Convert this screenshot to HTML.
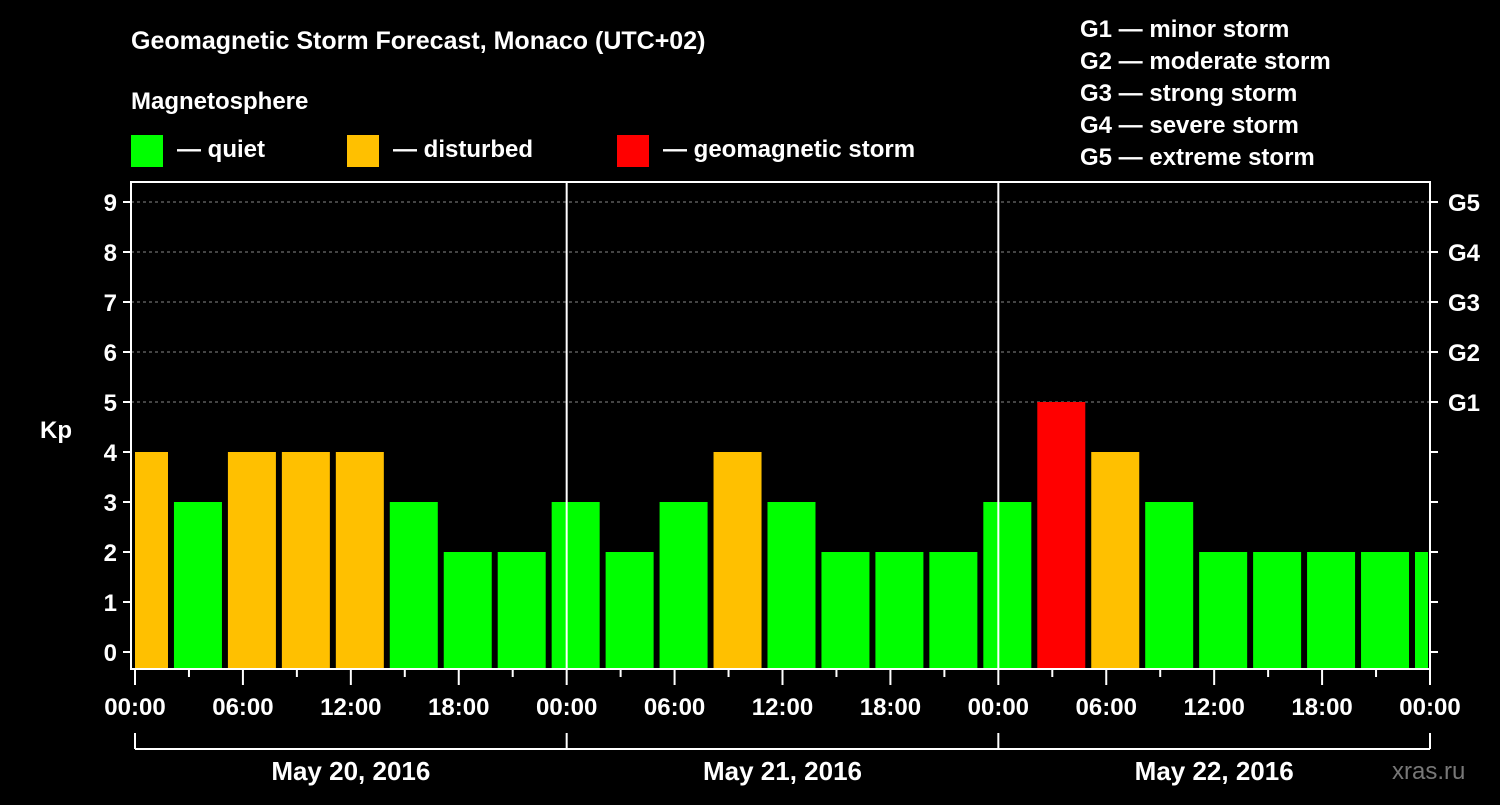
<!DOCTYPE html>
<html><head><meta charset="utf-8"><style>
body{margin:0;background:#000;}
svg text{font-family:"Liberation Sans",sans-serif;font-weight:bold;fill:#fff;}
</style></head><body>
<svg id="chart" width="1500" height="800">
<rect x="0" y="0" width="1500" height="800" fill="#000"/>
<text x="131" y="49" font-size="25">Geomagnetic Storm Forecast, Monaco (UTC+02)</text>
<text x="131" y="109" font-size="24">Magnetosphere</text>
<g><rect x="131" y="135" width="32" height="32" fill="#00ff00"/><text x="177" y="157" font-size="24">— quiet</text></g>
<g><rect x="347" y="135" width="32" height="32" fill="#ffc000"/><text x="393" y="157" font-size="24">— disturbed</text></g>
<g><rect x="617" y="135" width="32" height="32" fill="#ff0000"/><text x="663" y="157" font-size="24">— geomagnetic storm</text></g>
<g font-size="24">
<text x="1080" y="37">G1 — minor storm</text>
<text x="1080" y="69">G2 — moderate storm</text>
<text x="1080" y="101">G3 — strong storm</text>
<text x="1080" y="133">G4 — severe storm</text>
<text x="1080" y="165">G5 — extreme storm</text>
</g>
<text x="40" y="438" font-size="24">Kp</text>
<text x="1392" y="779" font-size="24" fill="#777" style="fill:#777;font-weight:normal">xras.ru</text>
<g id="plot"></g>
</svg>
<script>
const kpValues=[4,3,4,4,4,3,2,2,3,2,3,4,3,2,2,2,3,5,4,3,2,2,2,2,2];
const barHours=[0.5,3.5,6.5,9.5,12.5,15.5,18.5,21.5,24.5,27.5,30.5,33.5,36.5,39.5,42.5,45.5,48.5,51.5,54.5,57.5,60.5,63.5,66.5,69.5,72.5];
const yTicks=[0,1,2,3,4,5,6,7,8,9];
const gLabels=["G1","G2","G3","G4","G5"];
const gLevels=[5,6,7,8,9];
const xTickLabels=["00:00","06:00","12:00","18:00","00:00","06:00","12:00","18:00","00:00","06:00","12:00","18:00","00:00"];
const dateLabels=["May 20, 2016","May 21, 2016","May 22, 2016"];
const PL=131,PR=1430,PT=182,PB=669,X0=135;
const xs=h=>X0+h*(1430-X0)/72;
const ys=v=>652-v*50;
const NS="http://www.w3.org/2000/svg";
const g=document.getElementById('plot');
function mk(t,a){const e=document.createElementNS(NS,t);for(const k in a)e.setAttribute(k,a[k]);g.appendChild(e);return e;}
// clip
const defs=mk('defs',{});
const cp=document.createElementNS(NS,'clipPath');cp.setAttribute('id','pc');
const cr=document.createElementNS(NS,'rect');cr.setAttribute('x',PL+4);cr.setAttribute('y',PT);cr.setAttribute('width',PR-PL-6);cr.setAttribute('height',PB-PT);
cp.appendChild(cr);defs.appendChild(cp);
// grid
yTicks.forEach(v=>{if(v>=5){const l=mk('line',{x1:PL,x2:PR,y1:ys(v),y2:ys(v),stroke:'#888','stroke-dasharray':'3,3','stroke-width':1});

}});
// bars
const bg=mk('g',{'clip-path':'url(#pc)'});
kpValues.forEach((v,i)=>{const c=xs(barHours[i]);const r=document.createElementNS(NS,'rect');
r.setAttribute('x',c-24);r.setAttribute('width',48);r.setAttribute('y',ys(v));r.setAttribute('height',PB-ys(v));
r.setAttribute('fill',v>=5?'#ff0000':v>=4?'#ffc000':'#00ff00');


bg.appendChild(r);});
// day separators
[24,48].forEach(h=>{const l=mk('line',{x1:xs(h),x2:xs(h),y1:PT,y2:PB,stroke:'#fff','stroke-width':2});

});
// frame
const fr=mk('rect',{x:PL,y:PT,width:PR-PL,height:PB-PT,fill:'none',stroke:'#fff','stroke-width':2});


// y ticks
yTicks.forEach(v=>{mk('line',{x1:PL-8,x2:PL,y1:ys(v),y2:ys(v),stroke:'#fff','stroke-width':2});
mk('line',{x1:PR,x2:PR+8,y1:ys(v),y2:ys(v),stroke:'#fff','stroke-width':2});
const t=mk('text',{x:PL-14,y:ys(v)+9,'font-size':24,'text-anchor':'end'});t.textContent=v;

});
gLabels.forEach((s,i)=>{const t=mk('text',{x:PR+18,y:ys(gLevels[i])+9,'font-size':24});t.textContent=s;

});
// x ticks
for(let h=0;h<=72;h+=3){const maj=h%6===0;mk('line',{x1:xs(h),x2:xs(h),y1:PB,y2:PB+(maj?16:8),stroke:'#fff','stroke-width':2});}
xTickLabels.forEach((s,i)=>{const t=mk('text',{x:xs(i*6),y:715,'font-size':24,'text-anchor':'middle'});t.textContent=s;

});
// date bracket
mk('line',{x1:X0,x2:PR,y1:749,y2:749,stroke:'#fff','stroke-width':2});
[0,24,48,72].forEach(h=>mk('line',{x1:xs(h),x2:xs(h),y1:733,y2:749,stroke:'#fff','stroke-width':2}));
dateLabels.forEach((s,i)=>{const t=mk('text',{x:xs(i*24+12),y:780,'font-size':26,'text-anchor':'middle'});t.textContent=s;

});
</script>
</body></html>
